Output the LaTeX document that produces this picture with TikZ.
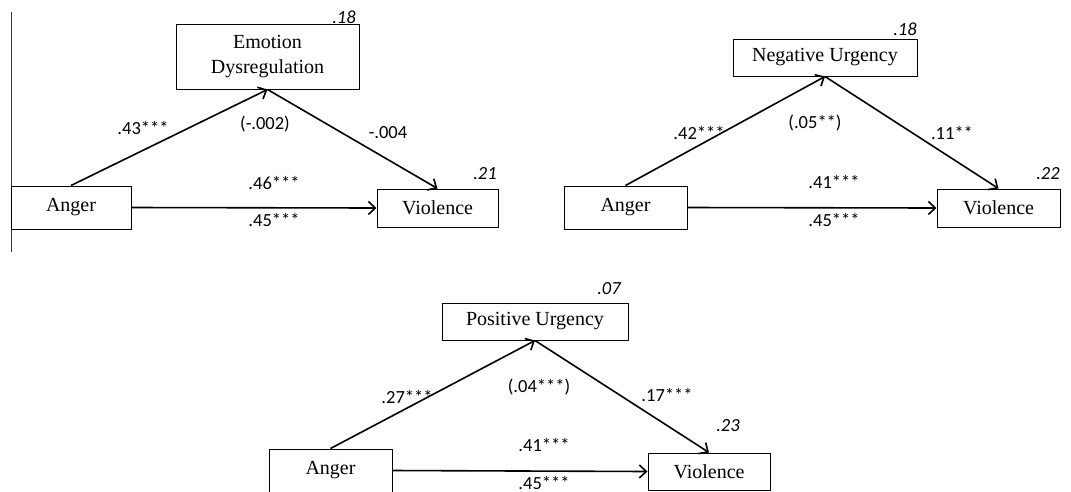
\documentclass[tikz,border=0pt]{standalone}
\usepackage{fontspec}
\setmainfont{Liberation Serif}
\newfontfamily\calibri{Carlito}
\usetikzlibrary{arrows.meta}

\begin{document}
\begin{tikzpicture}[x = 1pt, y = -1pt,
		box/.style = {draw, line width = 1pt, align = center, minimum width = 122pt, minimum height = 38pt, font = \fontsize{20}{25}\selectfont},
		coef/.style = {font = \calibri\fontsize{18.5}{20}\selectfont},
		rsq/.style = {font = \calibri\itshape\fontsize{18.5}{20}\selectfont},
		arr/.style = {-{Straight Barb[length = 7pt, width = 13pt]}, line width = 1.6pt}]
	\useasboundingbox (0, 0) rectangle (1071, 491);
	\draw[line width = 1pt, black!80] (11, 12) -- (11, 252);

	\node[box, minimum width = 183pt, minimum height = 65pt] (emo) at (267.5, 56.5) {Emotion\\Dysregulation};
	\node[box, minimum width = 120pt, minimum height = 43pt] (angerA) at (71, 207.5) {Anger};
	\node[box, minimum width = 121pt] (violA) at (437.5, 208) {Violence};
	\draw[arr] (angerA.north) -- (emo.south);
	\draw[arr] (emo.south) -- (violA.north);
	\draw[arr] (angerA.east) -- (violA.west);
		\node[coef] at (143, 128) {.43***};
		\node[coef] at (265, 124) {(-.002)};
		\node[coef] at (388, 133) {-.004};
		\node[coef] at (274, 183) {.46***};
		\node[coef] at (274, 220) {.45***};
		\node[rsq] at (344, 17) {.18};
		\node[rsq] at (485, 174) {.21};

	\node[box, minimum width = 184pt, minimum height = 37pt] (negu) at (825, 57.5) {Negative Urgency};
	\node[box, minimum width = 123pt, minimum height = 43pt] (angerB) at (625.5, 207.5) {Anger};
	\node[box, minimum width = 123pt] (violB) at (998.5, 208) {Violence};
	\draw[arr] (angerB.north) -- (negu.south);
	\draw[arr] (negu.south) -- (violB.north);
	\draw[arr] (angerB.east) -- (violB.west);
		\node[coef] at (699, 133) {.42***};
		\node[coef] at (815, 123) {(.05**)};
		\node[coef] at (952, 133) {.11**};
		\node[coef] at (834, 182) {.41***};
		\node[coef] at (834, 220) {.45***};
		\node[rsq] at (905, 29) {.18};
		\node[rsq] at (1048, 174) {.22};

	\node[box, minimum width = 186pt, minimum height = 37pt] (posu) at (535, 321.5) {Positive Urgency};
	\node[box, minimum width = 123pt, minimum height = 43pt] (angerC) at (330.5, 470.5) {Anger};
	\node[box, minimum width = 122pt, minimum height = 37pt] (violC) at (709, 471.5) {Violence};
	\draw[arr] (angerC.north) -- (posu.south);
	\draw[arr] (posu.south) -- (violC.north);
	\draw[arr] (angerC.east) -- (violC.west);
		\node[coef] at (407, 397) {.27***};
		\node[coef] at (539, 387) {(.04***)};
		\node[coef] at (667, 395) {.17***};
		\node[coef] at (544, 445) {.41***};
		\node[coef] at (544, 483) {.45***};
		\node[rsq] at (609, 289) {.07};
		\node[rsq] at (728, 426) {.23};
\end{tikzpicture}
\end{document}
